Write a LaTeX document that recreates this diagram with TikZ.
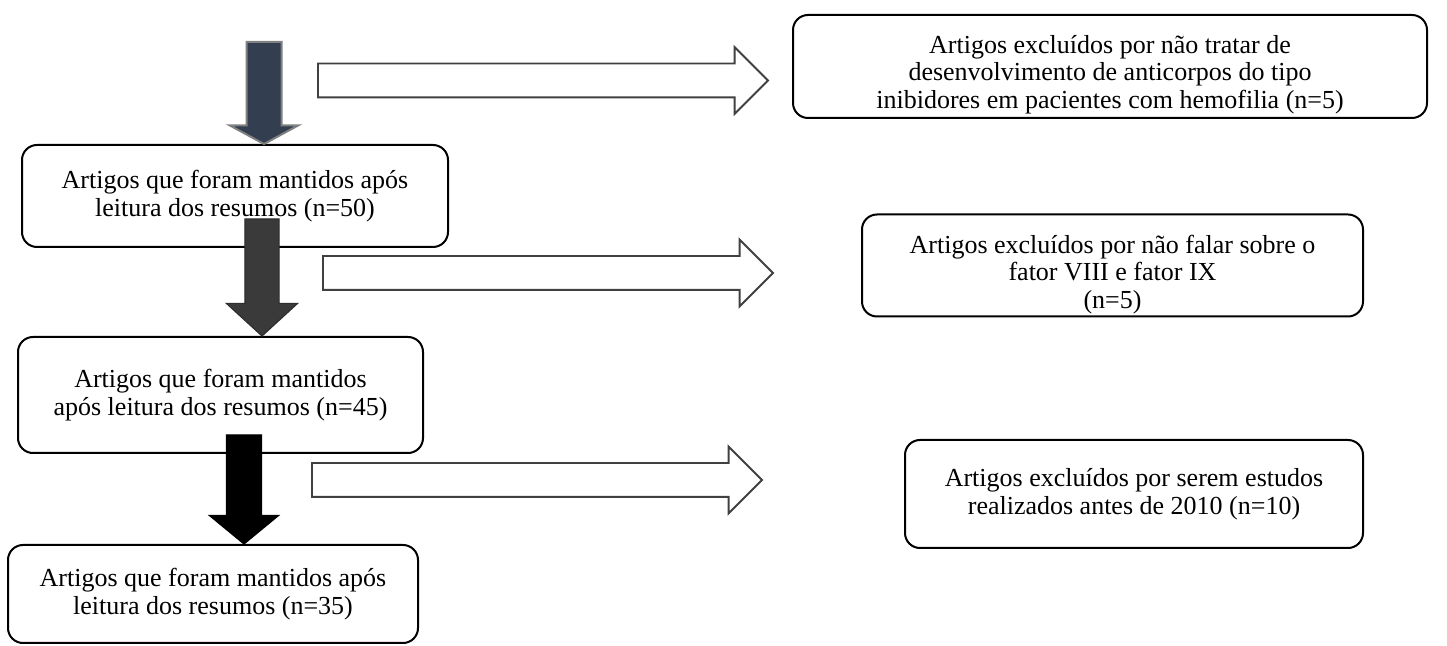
\documentclass[tikz,border=0pt]{standalone}
\usepackage{fontspec}
\setmainfont{Liberation Serif}
\usetikzlibrary{shapes.arrows}
\definecolor{navyfill}{HTML}{333F50}
\definecolor{navyedge}{HTML}{808080}
\definecolor{darkfill}{HTML}{3A3A3A}
\definecolor{sideedge}{HTML}{404040}
\tikzset{
  stagetext/.style={align=center, inner sep=0pt, font=\fontsize{13}{13.8}\selectfont},
  stagebox/.style={stagetext, draw, line width=1pt, rounded corners=7.5pt, fill=white},
  downarrow/.style={single arrow, rotate=-90, anchor=tip, inner xsep=0pt, outer sep=0pt},
  sidearrow/.style={single arrow, anchor=tail, inner xsep=0pt, inner ysep=8pt, outer sep=0pt,
    draw=sideedge, fill=white, line width=0.9pt, minimum height=225pt,
    single arrow head extend=8.25pt, single arrow tip angle=90}
}
\begin{document}
\begin{tikzpicture}[x=0.5pt,y=-0.5pt]
    \useasboundingbox (0,0) rectangle (1447,646);
    % boxes on the left
    \node [stagebox, minimum width=213pt, minimum height=51pt] (kept1) at (235,196)
      {Artigos que foram mantidos após\\leitura dos resumos (n=50)};
    \node [stagebox, minimum width=202.5pt, minimum height=58pt] (kept2) at (220.5,395)
      {Artigos que foram mantidos\\após leitura dos resumos (n=45)};
    \node [stagebox, minimum width=205pt, minimum height=49pt] (kept3) at (213,594)
      {Artigos que foram mantidos após\\leitura dos resumos (n=35)};
    % boxes on the right, text of the first two sits a little low
    \node [stagebox, minimum width=317pt, minimum height=51.5pt] (excl1) at (1110,66.5) {};
    \node [stagetext] (excl1txt) at ([yshift=-4pt]excl1.center)
      {Artigos excluídos por não tratar de\\desenvolvimento de anticorpos do tipo\\inibidores em pacientes com hemofilia (n=5)};
    \node [stagebox, minimum width=250.5pt, minimum height=51pt] (excl2) at (1112.5,265.5) {};
    \node [stagetext] (excl2txt) at ([yshift=-4.5pt]excl2.center)
      {Artigos excluídos por não falar sobre o\\fator VIII e fator IX\\(n=5)};
    \node [stagebox, minimum width=229pt, minimum height=54pt] (excl3) at (1134,494)
      {Artigos excluídos por serem estudos\\realizados antes de 2010 (n=10)};
    % block arrows down
    \node [downarrow, fill=navyfill, draw=navyedge, line width=1pt, inner ysep=8.25pt,
      minimum height=51pt, single arrow head extend=8.5pt, single arrow tip angle=123]
      (down1) at ([xshift=14.5pt]kept1.north) {};
    \node [downarrow, fill=darkfill, draw=darkfill!80!black, line width=0.6pt, inner ysep=8.25pt,
      minimum height=58.5pt, single arrow head extend=9.25pt, single arrow tip angle=95]
      (down2) at ([xshift=20.75pt]kept2.north) {};
    \node [downarrow, fill=black, draw=black, line width=0.6pt, inner ysep=8.5pt,
      minimum height=54.5pt, single arrow head extend=8.5pt, single arrow tip angle=101]
      (down3) at ([xshift=15.5pt]kept3.north) {};
    % block arrows to the right
    \coordinate (side1tail) at (318,80.5);
    \coordinate (side2tail) at (323,273);
    \coordinate (side3tail) at (312,480);
    \node [sidearrow] (side1) at (side1tail) {};
    \node [sidearrow] (side2) at (side2tail) {};
    \node [sidearrow] (side3) at (side3tail) {};
\end{tikzpicture}
\end{document}
